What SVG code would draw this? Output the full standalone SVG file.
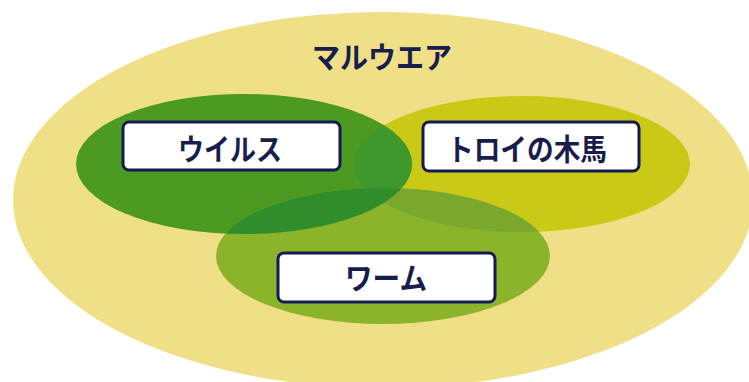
<svg xmlns="http://www.w3.org/2000/svg" width="749" height="382" viewBox="0 0 749 382">
<style>
.lbl{font-family:"Noto Sans CJK JP","Noto Sans",sans-serif;font-weight:700;font-size:30px;fill:#171d4c;text-anchor:middle}
.box{fill:#ffffff;stroke:#141b52;stroke-width:3}
</style>
<defs>
<clipPath id="cV"><ellipse cx="244" cy="164" rx="168" ry="70"/></clipPath>
<clipPath id="cT"><ellipse cx="522" cy="164" rx="168" ry="68"/></clipPath>
<clipPath id="cW"><ellipse cx="383" cy="256" rx="167" ry="68"/></clipPath>
</defs>
<rect width="749" height="382" fill="#ffffff"/>
<g id="malware">
<ellipse cx="383" cy="200" rx="370" ry="188" fill="#efdf86"/>
<text class="lbl" x="382" y="68" textLength="140" lengthAdjust="spacingAndGlyphs">マルウエア</text>
</g>
<g id="trojan-area">
<ellipse cx="522" cy="164" rx="168" ry="68" fill="#c9c916"/>
</g>
<g id="virus-area">
<ellipse cx="244" cy="164" rx="168" ry="70" fill="#4c9a22"/>
<ellipse cx="522" cy="164" rx="168" ry="68" fill="#3f982c" clip-path="url(#cV)"/>
</g>
<g id="worm-area">
<ellipse cx="383" cy="256" rx="167" ry="68" fill="#8cb42a"/>
<g clip-path="url(#cW)">
<ellipse cx="522" cy="164" rx="168" ry="68" fill="#79a82c"/>
<ellipse cx="244" cy="164" rx="168" ry="70" fill="#2f8d2b"/>
</g>
</g>
<g id="virus">
<rect class="box" x="123" y="122" width="217" height="48" rx="6"/>
<text class="lbl" x="230" y="160" textLength="104" lengthAdjust="spacingAndGlyphs">ウイルス</text>
</g>
<g id="trojan">
<rect class="box" x="423" y="122" width="216" height="49" rx="6"/>
<text class="lbl" x="527" y="160" textLength="160" lengthAdjust="spacingAndGlyphs">トロイの木馬</text>
</g>
<g id="worm">
<rect class="box" x="278" y="253" width="217" height="49" rx="6"/>
<text class="lbl" x="386" y="289" textLength="82" lengthAdjust="spacingAndGlyphs">ワーム</text>
</g>
<g id="connectors"/>
</svg>
